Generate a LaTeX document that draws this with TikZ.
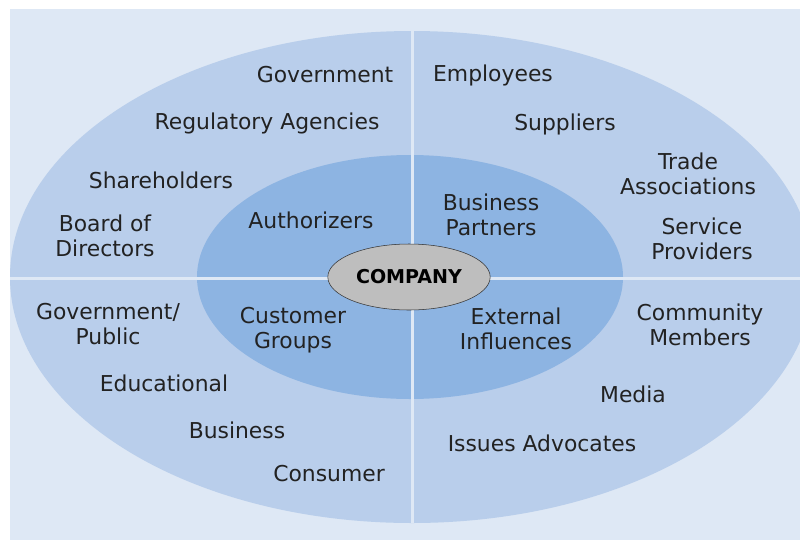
\documentclass[tikz,border=0pt]{standalone}
\usepackage{fontspec}
\setmainfont{DejaVu Sans}
\usetikzlibrary{shapes.geometric}
\definecolor{paleblue}{HTML}{DEE8F5}
\definecolor{ringblue}{HTML}{B9CEEB}
\definecolor{coreblue}{HTML}{8DB4E2}
\definecolor{companygray}{HTML}{BEBEBE}
\definecolor{textgray}{HTML}{222222}
\tikzstyle{stakeholder} = [
  text=textgray,
  align=center,
  inner sep=0pt,
  font=\fontsize{16.4}{18.75}\selectfont
]
\tikzstyle{company} = [
  ellipse,
  minimum width=115.5pt,
  minimum height=49.5pt,
  draw=black!80,
  fill=companygray,
  text=black,
  font=\bfseries\fontsize{14.3}{16}\selectfont
]
\tikzstyle{divider} = [paleblue, line width=2.25pt]

\begin{document}
\begin{tikzpicture}[x=0.75pt, y=-0.75pt]
    \useasboundingbox (0,0) rectangle (800,540);
    \fill[paleblue] (10,9) rectangle (800,540);

    % rings
    \fill[ringblue] (412,277) ellipse [x radius=301.5pt, y radius=184.5pt];
    \fill[coreblue] (410,277) ellipse [x radius=159.75pt, y radius=91.5pt];
    \begin{scope}
      \clip (412,277) ellipse [x radius=301.5pt, y radius=184.5pt];
      \draw[divider] (0,278) -- (820,278);
      \draw[divider] (412,0) -- (412,540);
    \end{scope}

    \node (company) [company] at (409,277) {COMPANY};

    % authorizers
    \node (government) [stakeholder] at (325,75) {Government};
    \node (regulatory) [stakeholder] at (267,123) {Regulatory Agencies};
    \node (shareholders) [stakeholder] at (161,180) {Shareholders};
    \node (board) [stakeholder] at (105,236) {Board of\\Directors};
    \node (authorizers) [stakeholder] at (311,220) {Authorizers};

    % business partners
    \node (employees) [stakeholder] at (493,75) {Employees};
    \node (suppliers) [stakeholder] at (565,124) {Suppliers};
    \node (trade) [stakeholder] at (688,174) {Trade\\Associations};
    \node (service) [stakeholder] at (702,239) {Service\\Providers};
    \node (partners) [stakeholder] at (491,215) {Business\\Partners};

    % customer groups
    \node (public) [stakeholder] at (108,324) {Government/\\Public};
    \node (educational) [stakeholder] at (164,383) {Educational};
    \node (business) [stakeholder] at (237,430) {Business};
    \node (consumer) [stakeholder] at (329,474) {Consumer};
    \node (customers) [stakeholder] at (293,330) {Customer\\Groups};

    % external influences
    \node (community) [stakeholder] at (700,325) {Community\\Members};
    \node (media) [stakeholder] at (633,394) {Media};
    \node (advocates) [stakeholder] at (542,443) {Issues Advocates};
    \node (external) [stakeholder] at (516,329) {External\\Influences};
\end{tikzpicture}
\end{document}
